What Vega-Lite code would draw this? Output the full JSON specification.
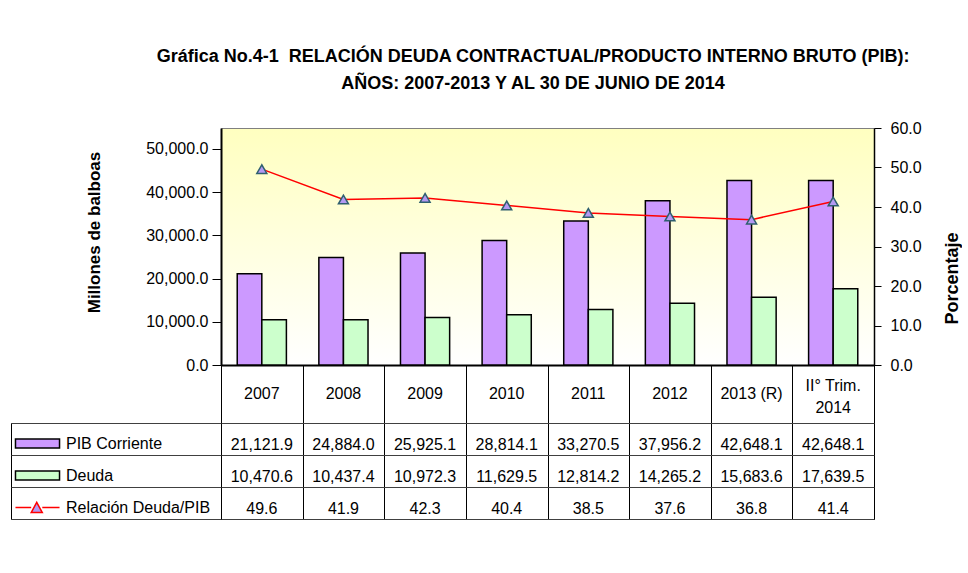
{
  "$schema": "https://vega.github.io/schema/vega-lite/v6.json",
  "padding": {"left": 10, "top": 47, "right": 0, "bottom": 0},
  "background": "white",
  "config": {
    "font": "Liberation Sans",
    "view": {"stroke": "black"},
    "axis": {"labelFont": "Liberation Sans", "titleFont": "Liberation Sans", "labelColor": "black", "titleColor": "black", "labelFontSize": 16, "titleFontSize": 16},
    "text": {"font": "Liberation Sans", "fontSize": 16, "color": "black"},
    "legend": {"orient": "top-left", "direction": "vertical", "offset": 4, "padding": 0, "title": null, "labelFontSize": 16, "labelFont": "Liberation Sans", "labelColor": "black", "symbolSize": 949, "symbolStrokeWidth": 1.5, "symbolOpacity": 1, "rowPadding": 7, "labelOffset": 18, "labelLimit": 300}
  },
  "title": {
    "text": ["Gráfica No.4-1 \u00a0RELACIÓN DEUDA CONTRACTUAL/PRODUCTO INTERNO BRUTO (PIB):", "AÑOS: 2007-2013 Y AL 30 DE JUNIO DE 2014"],
    "font": "Liberation Sans", "fontSize": 18, "fontWeight": "bold", "lineHeight": 27, "color": "black",
    "anchor": "middle", "frame": "bounds", "offset": 27, "dx": 47
  },
  "datasets": {
    "d": [
      {"year": "2007", "PIB Corriente": 21121.9, "Deuda": 10470.6, "Relación Deuda/PIB": 49.6},
      {"year": "2008", "PIB Corriente": 24884.0, "Deuda": 10437.4, "Relación Deuda/PIB": 41.9},
      {"year": "2009", "PIB Corriente": 25925.1, "Deuda": 10972.3, "Relación Deuda/PIB": 42.3},
      {"year": "2010", "PIB Corriente": 28814.1, "Deuda": 11629.5, "Relación Deuda/PIB": 40.4},
      {"year": "2011", "PIB Corriente": 33270.5, "Deuda": 12814.2, "Relación Deuda/PIB": 38.5},
      {"year": "2012", "PIB Corriente": 37956.2, "Deuda": 14265.2, "Relación Deuda/PIB": 37.6},
      {"year": "2013 (R)", "PIB Corriente": 42648.1, "Deuda": 15683.6, "Relación Deuda/PIB": 36.8},
      {"year": "II° Trim.\n2014", "PIB Corriente": 42648.1, "Deuda": 17639.5, "Relación Deuda/PIB": 41.4}
    ]
  },
  "columns": 2,
  "spacing": 0,
  "bounds": "flush",
  "resolve": {
    "scale": {"shape": "independent", "fill": "independent", "stroke": "independent"},
    "legend": {"shape": "independent", "fill": "independent", "stroke": "independent"}
  },
  "concat": [
    {"width": 210, "height": 237, "data": {"values": []}, "mark": "point", "view": {"stroke": null}},
    {
      "width": 653, "height": 237,
      "data": {"name": "d"},
      "view": {
        "stroke": "#808080",
        "fill": {"gradient": "linear", "x1": 0, "y1": 0, "x2": 0, "y2": 1, "stops": [{"offset": 0, "color": "#FFFFC0"}, {"offset": 1, "color": "#FFFFFF"}]}
      },
      "encoding": {
        "x": {"field": "year", "type": "nominal", "sort": null, "scale": {"paddingInner": 0, "paddingOuter": 0},
              "axis": {"labels": false, "ticks": false, "title": null, "domainColor": "black", "domainWidth": 2}}
      },
      "layer": [
        {
          "transform": [{"fold": ["PIB Corriente", "Deuda"], "as": ["serie", "valor"]}],
          "mark": {"type": "bar", "stroke": "black", "strokeWidth": 1.5},
          "encoding": {
            "xOffset": {"field": "serie", "type": "nominal", "sort": ["PIB Corriente", "Deuda"], "scale": {"paddingInner": 0, "paddingOuter": 0.66}},
            "y": {"field": "valor", "type": "quantitative", "scale": {"domain": [0, 54800], "nice": false},
                  "axis": {"orient": "left", "values": [0, 10000, 20000, 30000, 40000, 50000], "format": ",.1f", "grid": false,
                           "title": "Millones de balboas", "titleFontWeight": "bold", "titleFontSize": 17, "titlePadding": 42, "titleY": 104,
                           "tickSize": 9, "tickColor": "black", "domainColor": "black", "domainWidth": 2, "labelPadding": 4,
                           "labelFlush": false, "labelOverlap": false}},
            "fill": {"field": "serie", "type": "nominal", "scale": {"domain": ["PIB Corriente", "Deuda"], "range": ["#CC99FF", "#CCFFCC"]}, "legend": null}
          }
        },
        {
          "encoding": {
            "y": {"field": "Relación Deuda/PIB", "type": "quantitative", "scale": {"domain": [0, 60], "nice": false},
                  "axis": {"orient": "right", "values": [0, 10, 20, 30, 40, 50, 60], "format": ".1f", "grid": false,
                           "title": "Porcentaje", "titleAngle": 270, "titleFontWeight": "bold", "titleFontSize": 18, "titleY": 150, "titlePadding": 40,
                           "tickSize": 7, "tickColor": "black", "domainColor": "black", "domainWidth": 1.5, "labelPadding": 9,
                           "labelFlush": false, "labelOverlap": false}}
          },
          "layer": [
            {"mark": {"type": "line", "color": "#FF0000", "strokeWidth": 1.5}},
            {"mark": {"type": "point", "shape": "triangle-up", "size": 100, "filled": true, "fill": "#B399F2", "stroke": "#2F5F6F", "strokeWidth": 1.5, "opacity": 1}}
          ]
        }
      ],
      "resolve": {"scale": {"y": "independent"}}
    },
    {"width": 210, "height": 58, "data": {"values": []}, "mark": "point", "view": {"stroke": null}},
    {
      "width": 653, "height": 58,
      "data": {"name": "d"},
      "encoding": {
        "x": {"field": "year", "type": "nominal", "sort": null, "scale": {"paddingInner": 0, "paddingOuter": 0},
              "axis": {"orient": "top", "labels": false, "ticks": false, "domain": false, "grid": true, "tickBand": "extent", "gridColor": "black", "gridOpacity": 1, "title": null}},
        "text": {"field": "year"}
      },
      "layer": [
        {"transform": [{"filter": "indexof(datum.year, '\\n') < 0"}],
         "mark": {"type": "text", "fontSize": 16, "dy": 0}},
        {"transform": [{"filter": "indexof(datum.year, '\\n') >= 0"}],
         "mark": {"type": "text", "lineBreak": "\n", "fontSize": 16, "lineHeight": 22, "dy": -8}}
      ]
    },
    {
      "width": 210, "height": 96,
      "data": {"name": "d"},
      "transform": [{"fold": ["PIB Corriente", "Deuda", "Relación Deuda/PIB"], "as": ["serie", "valor"]}],
      "mark": {"type": "point", "filled": true, "size": 0},
      "encoding": {
        "y": {"field": "serie", "type": "nominal", "sort": ["PIB Corriente", "Deuda", "Relación Deuda/PIB"], "scale": {"paddingInner": 0, "paddingOuter": 0},
              "axis": {"labels": false, "ticks": false, "domain": false, "grid": true, "tickBand": "extent", "gridColor": "#404040", "gridOpacity": 1, "title": null}},
        "shape": {"field": "serie", "type": "nominal",
                  "scale": {"domain": ["PIB Corriente", "Deuda", "Relación Deuda/PIB"], "range": ["M-1.04,-0.29H1.82V0.29H-1.04Z", "M-1.04,-0.29H1.82V0.29H-1.04Z", "M-1.04,0H-0.02M0.7,0H1.82M-0.02,0.33L0.34,-0.33L0.7,0.33Z"]},
                  "legend": {"orient": "top-left"}},
        "fill": {"field": "serie", "type": "nominal",
                 "scale": {"domain": ["PIB Corriente", "Deuda", "Relación Deuda/PIB"], "range": ["#CC99FF", "#CCFFCC", "#B399F2"]},
                 "legend": {"orient": "top-left"}},
        "stroke": {"field": "serie", "type": "nominal",
                   "scale": {"domain": ["PIB Corriente", "Deuda", "Relación Deuda/PIB"], "range": ["#000000", "#000000", "#FF0000"]},
                   "legend": {"orient": "top-left"}}
      }
    },
    {
      "width": 653, "height": 96,
      "data": {"name": "d"},
      "transform": [{"fold": ["PIB Corriente", "Deuda", "Relación Deuda/PIB"], "as": ["serie", "valor"]}],
      "mark": {"type": "text", "fontSize": 16, "dy": 6},
      "encoding": {
        "x": {"field": "year", "type": "nominal", "sort": null, "scale": {"paddingInner": 0, "paddingOuter": 0},
              "axis": {"orient": "top", "labels": false, "ticks": false, "domain": false, "grid": true, "tickBand": "extent", "gridColor": "black", "gridOpacity": 1, "title": null}},
        "y": {"field": "serie", "type": "nominal", "sort": ["PIB Corriente", "Deuda", "Relación Deuda/PIB"], "scale": {"paddingInner": 0, "paddingOuter": 0},
              "axis": {"labels": false, "ticks": false, "domain": false, "grid": true, "tickBand": "extent", "gridColor": "#404040", "gridOpacity": 1, "title": null}},
        "text": {"field": "valor", "type": "quantitative", "format": ",.1f"}
      }
    }
  ]
}
